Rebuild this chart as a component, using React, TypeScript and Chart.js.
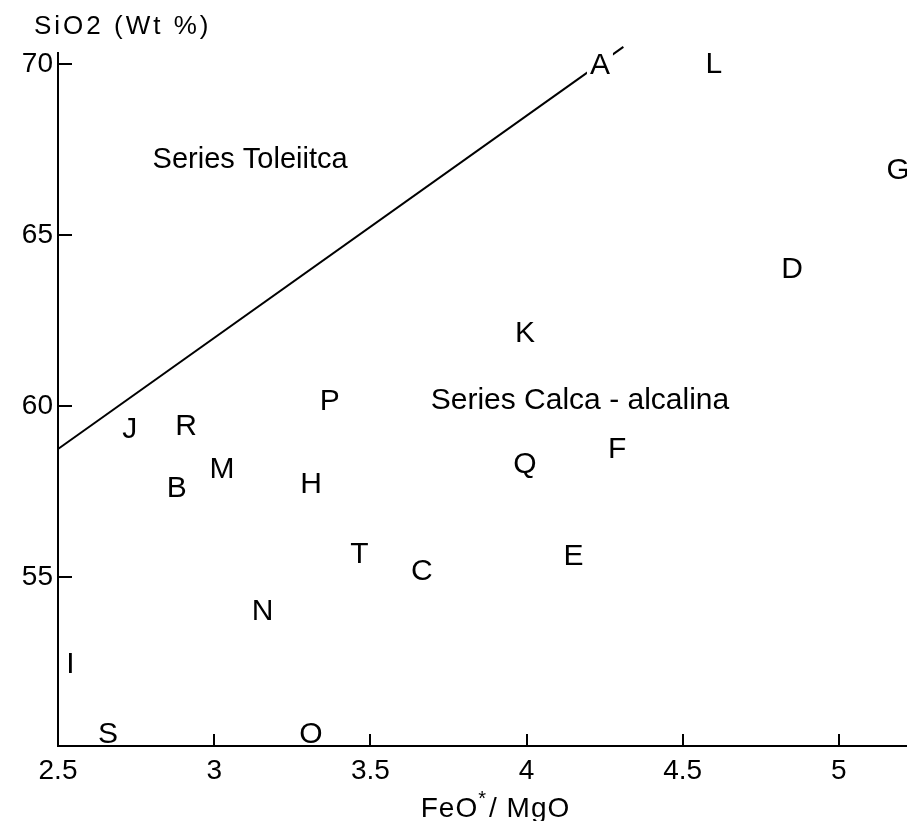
import React, { useEffect, useRef } from 'react';
import { Chart, registerables } from 'chart.js';
Chart.register(...registerables);

// Sample letters and their coordinates (FeO*/MgO, SiO2 wt%)
const pointLabels = ['A', 'L', 'G', 'D', 'K', 'P', 'J', 'R', 'M', 'B', 'H', 'Q', 'F', 'T', 'C', 'E', 'N', 'I', 'S', 'O'];
const feoMgo = [4.235, 4.6, 5.19, 4.85, 3.995, 3.37, 2.73, 2.91, 3.025, 2.88, 3.31, 3.995, 4.29, 3.465, 3.665, 4.15, 3.155, 2.54, 2.66, 3.31];
const sio2 = [70.03, 70.06, 66.97, 64.08, 62.21, 60.22, 59.38, 59.47, 58.21, 57.66, 57.77, 58.36, 58.8, 55.73, 55.24, 55.67, 54.07, 52.52, 50.48, 50.48];

// Dividing line between tholeiitic and calc-alkaline series
const boundaryX = [2.5, 4.31];
const boundaryY = [58.75, 70.5];

// Region labels
const regionLabels = ['Series Toleiitca', 'Series Calca - alcalina'];
const regionX = [3.115, 4.171];
const regionY = [67.26, 60.2];

// Axis ticks
const xTicks = [2.5, 3, 3.5, 4, 4.5, 5];
const yTicks = [55, 60, 65, 70];
const xRange = [2.5, 5.218];
const yRange = [50.07, 70.32];

const xTitleParts = ['FeO', '*', '/ MgO'];
const yTitle = 'SiO2 (Wt %)';

export default function App() {
  const ref = useRef<HTMLCanvasElement>(null);
  useEffect(() => {
    const canvas = ref.current!;
    const font = '"Liberation Sans", Arial, sans-serif';
    const overlay = {
      id: 'overlay',
      afterDatasetsDraw(chart: any) {
        const ctx = chart.ctx as CanvasRenderingContext2D;
        const xs = chart.scales.x;
        const ys = chart.scales.y;
        const area = chart.chartArea;
        ctx.save();
        ctx.strokeStyle = '#000';
        ctx.lineWidth = 2;
        xTicks.forEach((v) => {
          if (v === xRange[0]) return;
          const px = Math.round(xs.getPixelForValue(v));
          ctx.beginPath();
          ctx.moveTo(px, area.bottom);
          ctx.lineTo(px, area.bottom - 12);
          ctx.stroke();
        });
        yTicks.forEach((v) => {
          const py = Math.round(ys.getPixelForValue(v));
          ctx.beginPath();
          ctx.moveTo(area.left, py);
          ctx.lineTo(area.left + 14, py);
          ctx.stroke();
        });
        // point letters
        const meta = chart.getDatasetMeta(1);
        ctx.font = `30px ${font}`;
        ctx.textAlign = 'center';
        ctx.textBaseline = 'alphabetic';
        meta.data.forEach((el: any, i: number) => {
          const t = pointLabels[i];
          const w = ctx.measureText(t).width;
          ctx.fillStyle = '#fff';
          ctx.fillRect(el.x - w / 2 - 3, el.y - 13, w + 6, 26);
          ctx.fillStyle = '#000';
          ctx.fillText(t, el.x, el.y + 11);
        });
        // region labels
        ctx.font = `29px ${font}`;
        regionLabels.forEach((t, i) => {
          const px = xs.getPixelForValue(regionX[i]);
          const py = ys.getPixelForValue(regionY[i]);
          if (i === 1) ctx.font = `30px ${font}`;
          ctx.fillText(t, px, py + 10);
        });
        ctx.restore();
      },
      afterDraw(chart: any) {
        const ctx = chart.ctx as CanvasRenderingContext2D;
        const area = chart.chartArea;
        ctx.save();
        ctx.fillStyle = '#000';
        ctx.textBaseline = 'alphabetic';
        ctx.textAlign = 'left';
        // y title
        ctx.font = `26px ${font}`;
        (ctx as any).letterSpacing = '3px';
        ctx.fillText(yTitle, area.left - 24, area.top - 19);
        // x title with superscript
        (ctx as any).letterSpacing = '1px';
        ctx.font = `28px ${font}`;
        const w0 = ctx.measureText(xTitleParts[0]).width;
        const w2 = ctx.measureText(xTitleParts[2]).width;
        ctx.font = `20px ${font}`;
        const w1 = ctx.measureText(xTitleParts[1]).width;
        const total = w0 + w1 + 2 + w2;
        const cx = (area.left + area.right) / 2 + 13;
        let x = cx - total / 2;
        const by = area.bottom + 71;
        ctx.font = `28px ${font}`;
        ctx.fillText(xTitleParts[0], x, by);
        x += w0;
        ctx.font = `20px ${font}`;
        ctx.fillText(xTitleParts[1], x, by - 12);
        x += w1 + 2;
        ctx.font = `28px ${font}`;
        ctx.fillText(xTitleParts[2], x, by);
        ctx.restore();
      },
    };

    const chart = new Chart(canvas, {
      type: 'scatter',
      data: {
        datasets: [
          {
            type: 'line',
            data: boundaryX.map((x, i) => ({ x, y: boundaryY[i] })),
            borderColor: '#000',
            borderWidth: 2,
            pointRadius: 0,
            fill: false,
            clip: false,
          } as any,
          {
            type: 'scatter',
            data: feoMgo.map((x, i) => ({ x, y: sio2[i] })),
            pointRadius: 0,
            pointHoverRadius: 0,
          },
        ],
      },
      options: {
        animation: false,
        responsive: false,
        events: [],
        layout: { padding: { top: 53, left: 0, right: 0, bottom: 0 } },
        plugins: { legend: { display: false }, tooltip: { enabled: false }, title: { display: false } },
        scales: {
          x: {
            type: 'linear',
            min: xRange[0],
            max: xRange[1],
            afterBuildTicks: (s: any) => {
              s.ticks = xTicks.map((v) => ({ value: v }));
            },
            afterFit: (s: any) => {
              s.height = 75;
            },
            grid: { display: false, drawTicks: false },
            border: { display: true, color: '#000', width: 2 },
            ticks: {
              color: '#000',
              padding: 8,
              font: { family: font, size: 28 },
              callback: (v: any) => String(v),
            },
          },
          y: {
            type: 'linear',
            min: yRange[0],
            max: yRange[1],
            afterBuildTicks: (s: any) => {
              s.ticks = yTicks.map((v) => ({ value: v }));
            },
            afterFit: (s: any) => {
              s.width = 58;
            },
            grid: { display: false, drawTicks: false },
            border: { display: true, color: '#000', width: 2 },
            ticks: {
              color: '#000',
              padding: 5,
              font: { family: font, size: 28 },
              callback: (v: any) => String(v),
            },
          },
        },
      },
      plugins: [overlay],
    });
    return () => chart.destroy();
  }, []);

  return (
    <div style={{ position: 'fixed', left: 0, top: 0, width: 907, height: 821, background: '#fff' }}>
      <canvas ref={ref} width={907} height={821} style={{ width: 907, height: 821, display: 'block' }} />
    </div>
  );
}
